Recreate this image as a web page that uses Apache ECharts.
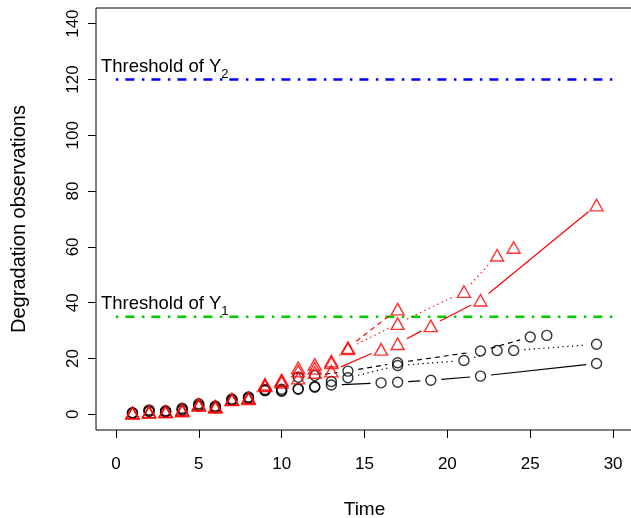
<!DOCTYPE html>
<html>
<head>
<meta charset="utf-8">
<script src="https://cdn.jsdelivr.net/npm/echarts@6/dist/echarts.min.js"></script>
<style>
html,body{margin:0;padding:0;background:#fff;}
#chart{width:631px;height:518px;}
</style>
</head>
<body>
<div id="chart"></div>
<script>
// ---- Data ----
const xTicks = [0, 5, 10, 15, 20, 25, 30];
const yTicks = [0, 20, 40, 60, 80, 100, 120, 140];

// Y1 (black circles)
const y1SolidT  = [1,2,3,4,5,6,7,8,9,10,11,12,13,16,17,19,22,29];
const y1SolidV  = [0.5,1.2,0.9,1.5,3.0,2.6,5.0,5.8,8.5,8.5,9.0,9.7,10.5,11.3,11.5,12.2,13.7,18.2];
const y1DashT   = [1,2,3,4,5,6,7,8,9,10,11,12,14,17,22,25,26];
const y1DashV   = [0.6,1.6,1.3,2.2,3.8,3.0,5.5,6.2,8.9,9.0,13.3,13.9,15.5,18.5,22.7,27.7,28.3];
const y1DotT    = [1,2,3,4,5,6,7,8,9,10,11,12,13,14,17,21,23,24,29];
const y1DotV    = [0.4,1.0,1.0,1.8,3.3,2.4,5.2,5.9,8.6,8.3,9.2,10.0,11.8,13.1,17.5,19.3,22.9,22.9,25.1];

// Y2 (red triangles)
const y2SolidT  = [1,2,3,4,5,6,7,8,9,10,11,12,13,16,17,19,22,29];
const y2SolidV  = [0.5,0.7,0.9,1.4,3.2,2.7,5.3,5.6,10.5,11.5,13.0,15.0,15.5,23.3,25.3,31.7,40.9,75.0];
const y2DashT   = [1,2,3,4,5,6,7,8,9,10,11,12,13,14,17];
const y2DashV   = [0.6,0.9,1.1,1.6,3.6,2.9,5.4,6.0,10.8,12.3,16.7,17.9,19.1,23.9,37.7];
const y2DotT    = [1,2,3,4,5,6,7,8,9,10,11,12,13,14,17,21,23,24];
const y2DotV    = [0.4,0.8,0.9,1.2,3.3,2.5,5.2,5.8,10.2,12.0,15.5,16.5,18.5,23.5,32.5,44.0,57.0,59.8];

const thresholdY1 = 35;
const thresholdY2 = 120;
const thresholdRange = [0, 30];

// ---- helpers ----
function pts(t, v){ return t.map((x,i)=>[x, v[i]]); }
function segs(t, v){ const s=[]; for(let i=0;i<t.length-1;i++) s.push([t[i],v[i],t[i+1],v[i+1]]); return s; }

const GAP = 10.5;
function gapLine(t, v, color, dash){
  return {
    type:'custom', silent:true, z:2,
    data: segs(t, v),
    encode:{x:[0,2], y:[1,3]},
    renderItem:function(params, api){
      const p1 = api.coord([api.value(0), api.value(1)]);
      const p2 = api.coord([api.value(2), api.value(3)]);
      const dx = p2[0]-p1[0], dy = p2[1]-p1[1];
      const d = Math.sqrt(dx*dx+dy*dy);
      if (d <= 2*GAP) return null;
      const ux = dx/d, uy = dy/d;
      return {
        type:'line',
        shape:{x1:p1[0]+ux*GAP, y1:p1[1]+uy*GAP, x2:p2[0]-ux*GAP, y2:p2[1]-uy*GAP},
        style:{stroke:color, lineWidth:1.2, lineDash:dash, fill:null}
      };
    }
  };
}
function markers(t, v, color, symbol, size){
  return {
    type:'scatter', silent:true, z:3,
    symbol:symbol, symbolSize:size,
    data: pts(t, v),
    itemStyle:{color:'rgba(0,0,0,0)', borderColor:color, borderWidth:1.4}
  };
}

const BLACK = '#000000', RED = '#ff0000';
const DASH = [5,4], DOT = [1.3,3.5];
const FONT = 'Liberation Sans, Arial, Helvetica, sans-serif';
const TRI = [13,11.5], CIR = 10;

const series = [
  gapLine(y1SolidT, y1SolidV, BLACK, null),
  gapLine(y1DashT,  y1DashV,  BLACK, DASH),
  gapLine(y1DotT,   y1DotV,   BLACK, DOT),
  gapLine(y2SolidT, y2SolidV, RED, null),
  gapLine(y2DashT,  y2DashV,  RED, DASH),
  gapLine(y2DotT,   y2DotV,   RED, DOT),
  markers(y1SolidT, y1SolidV, BLACK, 'circle', CIR),
  markers(y1DashT,  y1DashV,  BLACK, 'circle', CIR),
  markers(y1DotT,   y1DotV,   BLACK, 'circle', CIR),
  markers(y2SolidT, y2SolidV, RED, 'triangle', TRI),
  markers(y2DashT,  y2DashV,  RED, 'triangle', TRI),
  markers(y2DotT,   y2DotV,   RED, 'triangle', TRI),
  {
    type:'line', silent:true, symbol:'none', z:1,
    data: thresholdRange.map(x=>[x, thresholdY2]),
    lineStyle:{color:'#0000ff', width:2.5, type:[2.5,7,9,7.5]}
  },
  {
    type:'line', silent:true, symbol:'none', z:1,
    data: thresholdRange.map(x=>[x, thresholdY1]),
    lineStyle:{color:'#00cd00', width:2.5, type:[2.5,7,9,7.5]}
  }
];

const chart = echarts.init(document.getElementById('chart'), null, {renderer:'canvas'});
chart.setOption({
  animation:false,
  backgroundColor:'#ffffff',
  grid:{left:96, top:8, width:537, height:422, show:true, borderColor:'#000', borderWidth:1,
        backgroundColor:'transparent', containLabel:false, outerBoundsMode:'none'},
  xAxis:{
    type:'value', min:-1.2, max:31.2,
    name:'Time', nameLocation:'middle', nameGap:70,
    nameTextStyle:{fontSize:19, color:'#000', fontFamily:FONT},
    axisLine:{show:false, onZero:false},
    splitLine:{show:false},
    axisTick:{show:true, length:8, lineStyle:{color:'#000', width:1}, customValues:xTicks},
    axisLabel:{fontSize:17, color:'#000', fontFamily:FONT, margin:26, customValues:xTicks}
  },
  yAxis:{
    type:'value', min:-5.6, max:145.6,
    name:'Degradation observations', nameLocation:'middle', nameGap:67,
    nameTextStyle:{fontSize:20, color:'#000', fontFamily:FONT},
    axisLine:{show:false, onZero:false},
    splitLine:{show:false},
    axisTick:{show:true, length:8, lineStyle:{color:'#000', width:1}, customValues:yTicks},
    axisLabel:{fontSize:17, color:'#000', fontFamily:FONT, margin:14, rotate:90, customValues:yTicks}
  },
  series:series
});

function thresholdLabel(x, y, sub){
  const p = chart.convertToPixel({gridIndex:0}, [x, y]);
  return {
    type:'text', x:p[0], y:p[1] - 13, silent:true,
    style:{
      text:'{a|Threshold of Y}{b|' + sub + '}',
      fill:'#000',
      verticalAlign:'middle',
      rich:{
        a:{fontSize:18.5, fontFamily:FONT, fill:'#000', lineHeight:28, verticalAlign:'middle'},
        b:{fontSize:13, fontFamily:FONT, fill:'#000', lineHeight:28, verticalAlign:'bottom'}
      }
    }
  };
}
chart.setOption({
  graphic:[
    thresholdLabel(-0.9, thresholdY2, '2'),
    thresholdLabel(-0.9, thresholdY1, '1')
  ]
});
</script>
</body>
</html>
